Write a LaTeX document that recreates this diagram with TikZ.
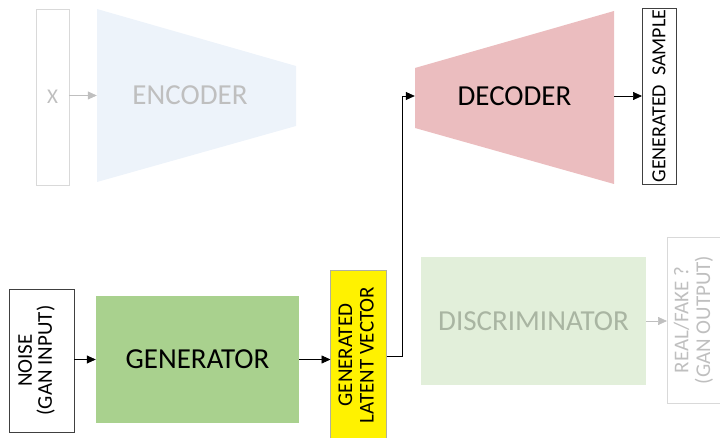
\documentclass[tikz,border=0pt]{standalone}
\usepackage{fontspec}
\setmainfont{Carlito}
\usetikzlibrary{arrows.meta}
\definecolor{lgray}{HTML}{D9D9D9}
\definecolor{tgray}{HTML}{BFBFBF}
\definecolor{encfill}{HTML}{EDF3FA}
\definecolor{decfill}{HTML}{EBBDBF}
\definecolor{genfill}{HTML}{A9D18E}
\definecolor{disfill}{HTML}{E2EFDA}
\definecolor{distext}{HTML}{A9B5A2}
\definecolor{latborder}{HTML}{B0B0A0}
\tikzset{
  box/.style={draw=#1, line width=0.8pt, inner sep=0pt, outer sep=0pt},
  big/.style={font=\fontsize{29}{32}\selectfont},
  arr/.style={line width=0.7pt, draw=black, -{Triangle[length=9pt,width=8pt]}},
  farr/.style={line width=0.7pt, draw=tgray, -{Triangle[length=9pt,width=8pt, fill=tgray]}},
}
\begin{document}
\begin{tikzpicture}[x=1pt,y=-1pt]
\useasboundingbox (0,0) rectangle (720,438);
% encoder / decoder shapes
\fill[encfill] (97,9) -- (296,66) -- (296,126) -- (97,182) -- cycle;
\fill[decfill] (415,68) -- (614,11) -- (614,184) -- (415,128) -- cycle;
\node[draw=none, minimum width=199, minimum height=173, inner sep=0, big, text=tgray] (enc) at (196.5,95.5) {\hspace*{-13pt}ENCODER};
\node[draw=none, minimum width=199, minimum height=173, inner sep=0, big] (dec) at (514.5,96) {DECODER};
% boxes
\node[box=lgray, minimum width=33, minimum height=176, text=tgray, font=\fontsize{21}{21}\selectfont] (x) at (52.5,97) {X};
\node[box=black!75, minimum width=34, minimum height=176, font=\fontsize{20}{20}\selectfont] (samp) at (659,96) {\rotatebox{90}{GENERATED\ \ SAMPLE}};
\node[box=black!75, minimum width=65, minimum height=143, font=\fontsize{21}{16}\selectfont] (noise) at (41.5,360.5) {\hspace*{-8pt}\rotatebox{90}{\begin{tabular}{@{}c@{}}NOISE\\(GAN INPUT)\end{tabular}}};
\node[fill=genfill, minimum width=203, minimum height=127, inner sep=0, big] (gen) at (197.5,359.5) {GENERATOR};
\node[box=latborder, fill=yellow, minimum width=56, minimum height=170, font=\fontsize{21}{21.5}\selectfont] (lat) at (358.5,355) {\rotatebox{90}{\begin{tabular}{@{}c@{}}GENERATED\\LATENT VECTOR\end{tabular}}};
\node[fill=disfill, minimum width=225, minimum height=128, inner sep=0, big, text=distext] (dis) at (533.5,321) {DISCRIMINATOR};
\node[box=lgray, minimum width=60, minimum height=166, font=\fontsize{21}{21}\selectfont, text=tgray] (rf) at (697,320) {\hspace*{-4pt}\rotatebox{90}{\begin{tabular}{@{}c@{}}REAL/FAKE ?\\(GAN OUTPUT)\end{tabular}}};
\coordinate (bend) at (402,356);
% connectors
\draw[farr] (x.east |- enc) -- (enc.west);
\draw[arr] (dec.east) -- (dec.east -| samp.west);
\draw[arr] (noise.east |- gen) -- (gen.west);
\draw[arr] (gen.east) -- (gen.east -| lat.west);
\draw[arr] (lat.east |- bend) -- (bend) |- (dec.west);
\draw[farr] (dis.east) -- (dis.east -| rf.west);
\end{tikzpicture}
\end{document}
